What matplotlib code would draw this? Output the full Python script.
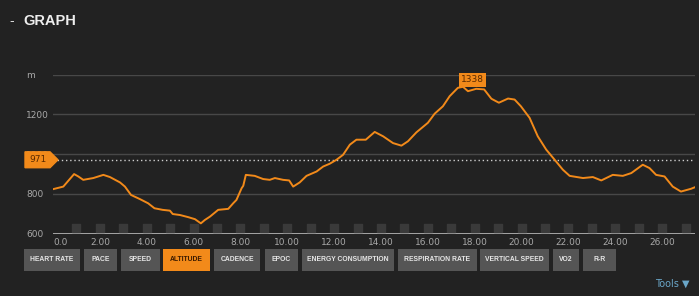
import numpy as np
import matplotlib.pyplot as plt
from matplotlib.patches import Polygon, FancyBboxPatch
from matplotlib.transforms import blended_transform_factory

# distance (km) and altitude (m)
dist = [0.0, 0.44, 0.9, 1.08, 1.29, 1.72, 2.15, 2.43, 2.86, 3.07, 3.33, 3.71, 4.06,
        4.33, 4.68, 4.99, 5.11, 5.42, 5.78, 6.06, 6.31, 6.48, 6.70, 7.05, 7.48,
        7.69, 7.83, 8.05, 8.12, 8.23, 8.61, 8.97, 9.25, 9.47, 9.82, 10.08, 10.25,
        10.53, 10.82, 11.25, 11.53, 11.81, 12.1, 12.38, 12.67, 12.95, 13.35, 13.73,
        14.09, 14.51, 14.87, 15.15, 15.51, 16.0, 16.29, 16.64, 16.93, 17.28, 17.5,
        17.71, 18.06, 18.4, 18.71, 19.03, 19.42, 19.7, 19.97, 20.34, 20.69, 21.05,
        21.41, 21.76, 22.05, 22.62, 23.04, 23.4, 23.89, 24.32, 24.68, 25.17, 25.46,
        25.74, 26.1, 26.45, 26.8, 27.23, 27.4]
alt = [823, 836, 899, 887, 870, 879, 895, 884, 857, 836, 794, 773, 752,
       727, 719, 715, 698, 693, 682, 672, 651, 668, 685, 719, 724,
       752, 769, 828, 840, 895, 890, 874, 870, 879, 870, 867, 836,
       857, 890, 912, 937, 951, 971, 996, 1047, 1072, 1072, 1111,
       1089, 1055, 1042, 1064, 1109, 1157, 1203, 1240, 1291, 1333, 1338,
       1316, 1328, 1325, 1278, 1258, 1279, 1274, 1240, 1182, 1089, 1022,
       971, 921, 890, 879, 884, 867, 895, 890, 904, 946, 929,
       895, 887, 836, 811, 825, 833]

avg_alt = 971
max_alt = 1338
max_at = 17.5
xticks = list(range(0, 27, 2))
xlabels = ["0.0"] + ["%.2f" % v for v in xticks[1:]]
yticks = [600, 800, 1000, 1200, 1400]
ylabels = ["600", "800", "1000", "1200", "m"]
buttons = ["HEART RATE", "PACE", "SPEED", "ALTITUDE", "CADENCE", "EPOC",
           "ENERGY CONSUMPTION", "RESPIRATION RATE", "VERTICAL SPEED", "VO2", "R-R"]
active = "ALTITUDE"

bg = "#222222"
orange = "#f28a1a"
W, H = 699, 296
narrow = ["Liberation Sans", "DejaVu Sans"]

fig = plt.figure(figsize=(W / 100, H / 100), dpi=100, facecolor=bg)
ax = fig.add_axes([53 / W, 1 - 233.5 / H, (695 - 53) / W, (233.5 - 74.5) / H])
ax.set_facecolor(bg)
ax.set_xlim(0, 27.4)
ax.set_ylim(600, 1400)

for s in ax.spines.values():
    s.set_visible(False)
for y in yticks[1:]:
    ax.axhline(y, color="#484848", lw=1, zorder=1)
ax.axhline(600, color="#bbbbbb", lw=1.2, zorder=2)

ax.set_xticks(xticks)
ax.set_xticklabels(xlabels)
ax.set_yticks(yticks)
ax.set_yticklabels(ylabels)
ax.tick_params(axis="x", length=0, pad=3, labelsize=6.5, labelcolor="#a8a8a8")
ax.tick_params(axis="y", length=0, pad=19.4, labelsize=6.5, labelcolor="#a8a8a8")
for lab in ax.get_yticklabels():
    lab.set_horizontalalignment("left")
ax.get_xticklabels()[0].set_horizontalalignment("left")

# small grey squares along the bottom
sq = np.arange(1, 28)
ax.scatter(sq, [628] * len(sq), marker="s", s=26, color="#3a3a3a", zorder=2, clip_on=False)

# average line + marker (covers the 1000 label, as in the original)
ax.axhline(avg_alt, color="#cfcfcf", lw=1, ls=(0, (1, 2)), zorder=3)
tr = blended_transform_factory(fig.transFigure, ax.transData)
pts = [(25 / W, avg_alt + 40), (50 / W, avg_alt + 40), (58 / W, avg_alt),
       (50 / W, avg_alt - 40), (25 / W, avg_alt - 40)]
ax.add_patch(Polygon(pts, closed=True, transform=tr, color=orange, clip_on=False, zorder=5))
ax.text(38 / W, avg_alt, str(avg_alt), transform=tr, ha="center", va="center",
        fontsize=6.5, color="#5a2a00", zorder=6)

ax.plot(dist, alt, color=orange, lw=1.4, zorder=4)

# max label
ax.text(max_at + 0.4, max_alt + 12, str(max_alt), ha="center", va="bottom", fontsize=6.5,
        color="#5a2a00", zorder=6,
        bbox=dict(boxstyle="square,pad=0.25", fc=orange, ec="none"))

# title
fig.text(9 / W, 1 - 21 / H, "-", color="#dddddd", fontsize=10, va="center", family=narrow)
fig.text(23 / W, 1 - 21 / H, "GRAPH", color="#eeeeee", fontsize=10.5, va="center",
         family=narrow, weight="bold")

# buttons
bx = [(24, 80), (84, 117), (121, 160), (163, 210), (214, 260), (265, 298),
      (302, 394), (398, 477), (480, 549), (553, 579), (583, 616)]
for name, (x0, x1) in zip(buttons, bx):
    fc = orange if name == active else "#555555"
    tc = "#3a1a00" if name == active else "#e6e6e6"
    fig.patches.append(FancyBboxPatch((x0 / W, 1 - 271 / H), (x1 - x0) / W, 22 / H,
                                      boxstyle="square,pad=0", fc=fc, ec="none",
                                      transform=fig.transFigure))
    fig.text((x0 + x1) / 2 / W, 1 - 259.5 / H, name, ha="center", va="center",
             fontsize=4.9, color=tc, family=narrow, weight="bold")

fig.text(655 / W, 1 - 284 / H, "Tools \u25bc", color="#6aa6c8", fontsize=7, va="center")

fig.savefig("out.png", dpi=100, facecolor=bg)
